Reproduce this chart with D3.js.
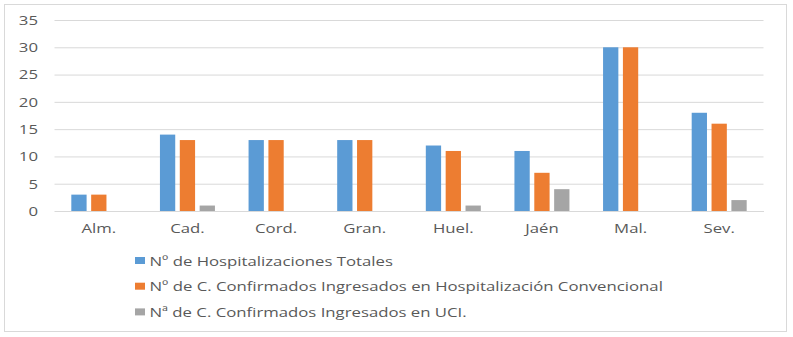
<!DOCTYPE html>
<html><head><meta charset="utf-8">
<script src="https://cdn.jsdelivr.net/npm/d3@7"></script>
<style>body{margin:0;background:#fff}svg{display:block}</style>
</head><body>
<script>
const categories = ["Alm.","Cad.","Cord.","Gran.","Huel.","Jaén","Mal.","Sev."];
const seriesNames = ["Nº de Hospitalizaciones Totales","Nº de C. Confirmados Ingresados en Hospitalización Convencional","Nª de C. Confirmados Ingresados en UCI."];
const totales = [3,14,13,13,12,11,30,18];
const convencional = [3,13,13,13,11,7,30,16];
const uci = [0,1,0,0,1,4,0,2];
const yTicks = [0,5,10,15,20,25,30,35];
const colors = ["#5B9BD5","#ED7D31","#A5A5A5"];
const series = [totales, convencional, uci];

(function(){
const W=793,H=337;
const svg=d3.select("body").append("svg").attr("width",W).attr("height",H);
svg.append("rect").attr("x",4.5).attr("y",4.5).attr("width",782).attr("height",327).attr("fill","#fff").attr("stroke","#d9d9d9");
const pl=54.5,pr=763.5,pt=20,pb=211;
const x=d3.scaleBand().domain(categories).range([pl,pr]);
const xs=d3.scaleBand().domain([0,1,2]).range([-27.5,27.5]).paddingInner(0.23);
const y=d3.scaleLinear().domain([0,35]).range([pb,pt]);
const font="'Open Sans', 'DejaVu Sans', sans-serif";
const stretch=1.24;
function widen(sel){
  sel.each(function(){
    const L=this.getComputedTextLength();
    d3.select(this).attr("textLength",L*stretch).attr("lengthAdjust","spacingAndGlyphs");
  });
}
const g=svg.append("g");
const yAxis=d3.axisLeft(y).tickValues(yTicks).tickSize(-(pr-pl)).tickPadding(16.5);
const ya=g.append("g").attr("transform",`translate(${pl},0)`).call(yAxis);
ya.select(".domain").remove();
ya.selectAll(".tick line").attr("stroke","#d9d9d9");
ya.selectAll(".tick text").attr("fill","#595959").style("font-family",font).style("font-size","13.5px").call(widen);
const xAxis=d3.axisBottom(x).tickSize(0).tickPadding(12);
const xa=g.append("g").attr("transform",`translate(0,${pb})`).call(xAxis);
xa.select(".domain").attr("stroke","#d9d9d9");
xa.selectAll(".tick text").attr("fill","#595959").style("font-family",font).style("font-size","13.5px").call(widen);
series.forEach((s,i)=>{
  g.append("g").selectAll("rect").data(s).join("rect")
   .attr("x",(d,j)=>x(categories[j])+x.bandwidth()/2+xs(i))
   .attr("width",xs.bandwidth())
   .attr("y",d=>y(d)).attr("height",d=>y(0)-y(d))
   .attr("fill",colors[i]);
});
const lg=svg.append("g");
seriesNames.forEach((n,i)=>{
  const yy=260.5+i*25.7;
  lg.append("rect").attr("x",135).attr("y",yy-3.5).attr("width",10).attr("height",7).attr("fill",colors[i]);
  lg.append("text").attr("x",149.5).attr("y",yy+5).text(n).attr("fill","#595959")
    .style("font-family",font).style("font-size","13.5px").call(widen);
});
})();
</script>
</body></html>
